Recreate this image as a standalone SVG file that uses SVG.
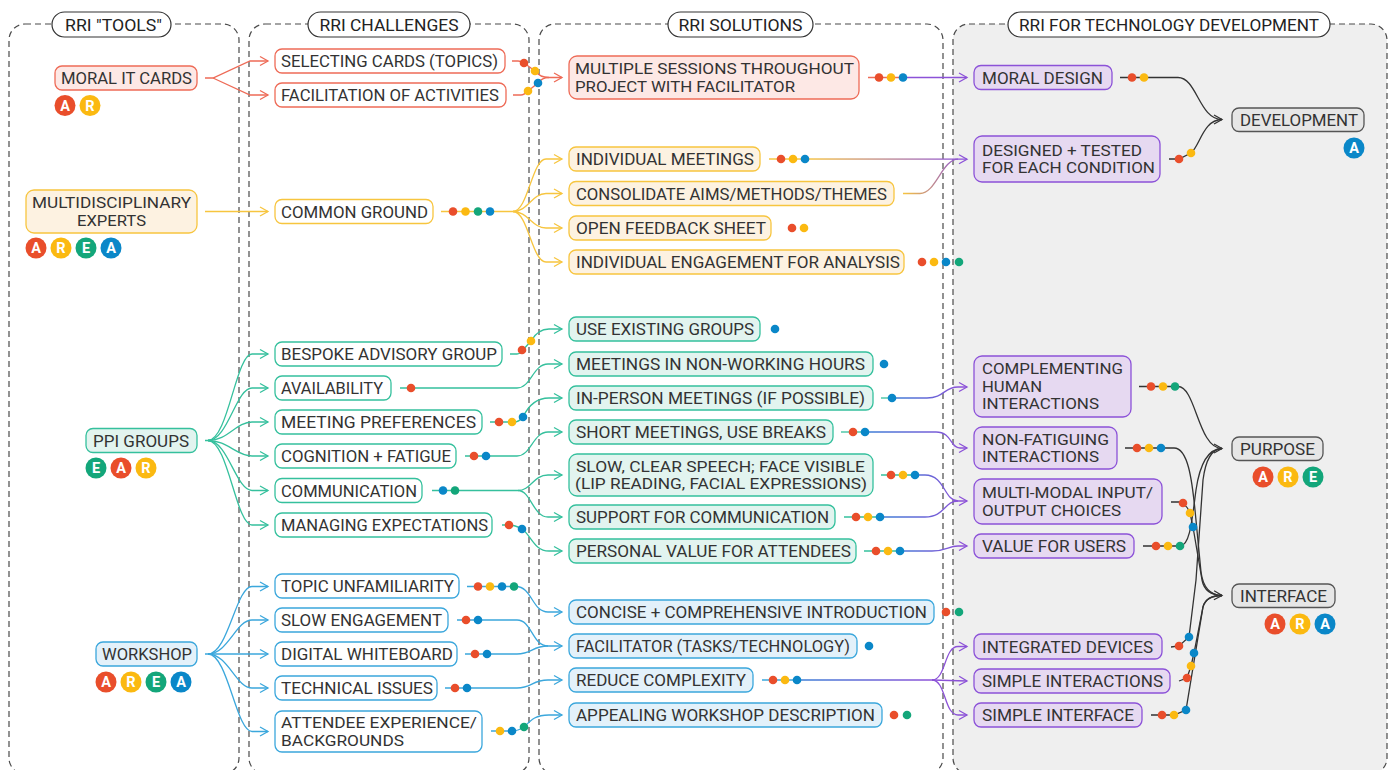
<svg xmlns="http://www.w3.org/2000/svg" width="1392" height="770" viewBox="0 0 1392 770">
<style>
.pn{fill:none;stroke:#4a4a4a;stroke-width:1.2;stroke-dasharray:6 4}
.pill{fill:#fff;stroke:#333;stroke-width:1.2}
.bx{stroke-width:1.3}
.r{fill:#fde8e5;stroke:#ee6b57}.rw{fill:#fff;stroke:#ee6b57}
.y{fill:#fdf2e1;stroke:#f7c53f}.yw{fill:#fff;stroke:#f7c53f}
.g{fill:#e2f4ef;stroke:#35c09d}.gw{fill:#fff;stroke:#35c09d}
.b{fill:#e3f1fa;stroke:#3ba7dc}.bw{fill:#fff;stroke:#3ba7dc}
.p{fill:#e6d9f1;stroke:#8c52d8}
.k{fill:#e6e6e6;stroke:#555}
.t{font-family:Roboto,"Liberation Sans",sans-serif;font-size:17px;fill:#333}
.t2{font-family:Roboto,"Liberation Sans",sans-serif;font-size:15px;fill:#333}
.tt{font-family:Roboto,"Liberation Sans",sans-serif;font-size:17px;fill:#222}
.bl{font-family:Roboto,"Liberation Sans",sans-serif;font-size:14.5px;font-weight:bold;fill:#fff;text-anchor:middle}
.c{fill:none;stroke-width:1.3}
.cr{stroke:#ee6b57}.cy{stroke:#f7c53f}.cg{stroke:#35c09d}.cb{stroke:#3ba7dc}.cp{stroke:#8c52d8}.ck{stroke:#333}
.dr{fill:#e94e2b}.dy{fill:#fbb911}.dg{fill:#13a67a}.db{fill:#0a87c8}
</style>
<defs>
<marker id="ar-r" markerUnits="userSpaceOnUse" markerWidth="12" markerHeight="12" refX="10" refY="6" orient="auto"><path d="M2,1.5 L10,6 L2,10.5" fill="none" stroke="#ee6b57" stroke-width="1.3"/></marker>
<marker id="ar-y" markerUnits="userSpaceOnUse" markerWidth="12" markerHeight="12" refX="10" refY="6" orient="auto"><path d="M2,1.5 L10,6 L2,10.5" fill="none" stroke="#f7c53f" stroke-width="1.3"/></marker>
<marker id="ar-g" markerUnits="userSpaceOnUse" markerWidth="12" markerHeight="12" refX="10" refY="6" orient="auto"><path d="M2,1.5 L10,6 L2,10.5" fill="none" stroke="#35c09d" stroke-width="1.3"/></marker>
<marker id="ar-b" markerUnits="userSpaceOnUse" markerWidth="12" markerHeight="12" refX="10" refY="6" orient="auto"><path d="M2,1.5 L10,6 L2,10.5" fill="none" stroke="#3ba7dc" stroke-width="1.3"/></marker>
<marker id="ar-p" markerUnits="userSpaceOnUse" markerWidth="12" markerHeight="12" refX="10" refY="6" orient="auto"><path d="M2,1.5 L10,6 L2,10.5" fill="none" stroke="#8c52d8" stroke-width="1.3"/></marker>
<marker id="ar-k" markerUnits="userSpaceOnUse" markerWidth="12" markerHeight="12" refX="10" refY="6" orient="auto"><path d="M2,1.5 L10,6 L2,10.5" fill="none" stroke="#333" stroke-width="1.3"/></marker>
<linearGradient id="gY1" gradientUnits="userSpaceOnUse" x1="805" y1="0" x2="960" y2="0"><stop offset="0" stop-color="#f7c53f"/><stop offset="1" stop-color="#8c52d8"/></linearGradient>
<linearGradient id="gY2" gradientUnits="userSpaceOnUse" x1="903" y1="0" x2="960" y2="0"><stop offset="0" stop-color="#f7c53f"/><stop offset="1" stop-color="#8c52d8"/></linearGradient>
<linearGradient id="gB1" gradientUnits="userSpaceOnUse" x1="892" y1="0" x2="960" y2="0"><stop offset="0" stop-color="#3b7fd6"/><stop offset="1" stop-color="#8c52d8"/></linearGradient>
<linearGradient id="gB2" gradientUnits="userSpaceOnUse" x1="865" y1="0" x2="960" y2="0"><stop offset="0" stop-color="#3b7fd6"/><stop offset="1" stop-color="#8c52d8"/></linearGradient>
<linearGradient id="gB3" gradientUnits="userSpaceOnUse" x1="880" y1="0" x2="960" y2="0"><stop offset="0" stop-color="#3b7fd6"/><stop offset="1" stop-color="#8c52d8"/></linearGradient>
<linearGradient id="gB4" gradientUnits="userSpaceOnUse" x1="797" y1="0" x2="930" y2="0"><stop offset="0" stop-color="#3b7fd6"/><stop offset="1" stop-color="#8c52d8"/></linearGradient>
</defs>

<g id="panels">
<rect class="pn" x="9" y="24" width="230" height="750" rx="16"/>
<rect class="pn" x="249" y="24" width="280" height="750" rx="16"/>
<rect class="pn" x="539" y="24" width="404" height="750" rx="16"/>
<rect class="pn" x="953" y="24" width="434" height="750" rx="16" style="fill:#efefef"/>
</g>

<g id="titles">
<g id="title-tools"><rect class="pill" x="52" y="12" width="119" height="25" rx="12.5"/><text class="tt" x="113.5" y="30.5" text-anchor="middle" textLength="97" lengthAdjust="spacingAndGlyphs">RRI "TOOLS"</text></g>
<g id="title-challenges"><rect class="pill" x="308" y="12" width="162" height="25" rx="12.5"/><text class="tt" x="389" y="30.5" text-anchor="middle" textLength="139" lengthAdjust="spacingAndGlyphs">RRI CHALLENGES</text></g>
<g id="title-solutions"><rect class="pill" x="668" y="12" width="145" height="25" rx="12.5"/><text class="tt" x="740.5" y="30.5" text-anchor="middle" textLength="124" lengthAdjust="spacingAndGlyphs">RRI SOLUTIONS</text></g>
<g id="title-tech"><rect class="pill" x="1008" y="12" width="322" height="25" rx="12.5"/><text class="tt" x="1169" y="30.5" text-anchor="middle" textLength="300" lengthAdjust="spacingAndGlyphs">RRI FOR TECHNOLOGY DEVELOPMENT</text></g>
</g>

<g id="connectors">
<path class="c cr" d="M205,78 L213,78 L250,61 L268,61" marker-end="url(#ar-r)"/>
<path class="c cr" d="M213,78 L250,95 L268,95" marker-end="url(#ar-r)"/>
<path class="c cr" d="M512,61 L518,61 Q521,61 524,63 L535,71 Q540,77.5 549,77.5 L562,77.5" marker-end="url(#ar-r)"/>
<path class="c cr" d="M513,95 L521,95 Q524,95 528,91 L538,83 Q542,77.5 549,77.5"/>
<path class="c cr" d="M868,77.5 L903,77.5"/>
<path class="c cp" d="M903,77.5 L967,77.5" marker-end="url(#ar-p)"/>
<path class="c cy" d="M205,211.5 L268,211.5" marker-end="url(#ar-y)"/>
<path class="c cy" d="M441,211.5 L513,211.5"/>
<path class="c cy" d="M513,211.5 C528,211.5 532,159 546,159 L562,159" marker-end="url(#ar-y)"/>
<path class="c cy" d="M513,211.5 C528,211.5 532,193.5 546,193.5 L562,193.5" marker-end="url(#ar-y)"/>
<path class="c cy" d="M513,211.5 C528,211.5 532,228 546,228 L562,228" marker-end="url(#ar-y)"/>
<path class="c cy" d="M513,211.5 C528,211.5 532,262 546,262 L562,262" marker-end="url(#ar-y)"/>
<path class="c" stroke="url(#gY1)" d="M769,159 L967,159.2" marker-end="url(#ar-p)"/>
<path class="c" stroke="url(#gY2)" d="M903,193.5 L920,193.5 C936,193.5 942,159.2 958,159.2"/>
<path class="c cg" d="M205,440.5 L208,440.5 C228,440.5 236,354 252,354 L268,354" marker-end="url(#ar-g)"/>
<path class="c cg" d="M208,440.5 C228,440.5 236,388 252,388 L268,388" marker-end="url(#ar-g)"/>
<path class="c cg" d="M208,440.5 C228,440.5 236,422 252,422 L268,422" marker-end="url(#ar-g)"/>
<path class="c cg" d="M208,440.5 C228,440.5 236,456 252,456 L268,456" marker-end="url(#ar-g)"/>
<path class="c cg" d="M208,440.5 C228,440.5 236,490.5 252,490.5 L268,490.5" marker-end="url(#ar-g)"/>
<path class="c cg" d="M208,440.5 C228,440.5 236,525 252,525 L268,525" marker-end="url(#ar-g)"/>
<path class="c cg" d="M510,354 L517,354 Q520,354 522,351 L531,341 Q538,329 549,329 L562,329" marker-end="url(#ar-g)"/>
<path class="c cg" d="M400,388 L517,388 C531,388 533,364 548,364 L562,364" marker-end="url(#ar-g)"/>
<path class="c cg" d="M490,422 L514,422 Q519,422 523,417 Q532,398 549,398 L562,398" marker-end="url(#ar-g)"/>
<path class="c cg" d="M465,456 L517,456 C531,456 533,432 548,432 L562,432" marker-end="url(#ar-g)"/>
<path class="c cg" d="M432,490.5 L518,490.5 C531,490.5 533,475 548,475 L562,475" marker-end="url(#ar-g)"/>
<path class="c cg" d="M518,490.5 C531,490.5 533,517 548,517 L562,517" marker-end="url(#ar-g)"/>
<path class="c cg" d="M502,525 L509,525 Q515,525 522,529 C531,535 534,551 549,551 L562,551" marker-end="url(#ar-g)"/>
<path class="c cg" d="M881,398 L892,398"/>
<path class="c" stroke="url(#gB1)" d="M892,398 L927,398 C944,398 944,387 958,387 L967,387" marker-end="url(#ar-p)"/>
<path class="c cg" d="M841,432 L865,432"/>
<path class="c" stroke="url(#gB2)" d="M865,432 L936,432 C952,432 950,448 960,448 L967,448" marker-end="url(#ar-p)"/>
<path class="c cg" d="M881,475 L915,475"/>
<path class="c" stroke="url(#gB1)" d="M915,475 L925,475 C945,475 944,501 958,501 L967,501" marker-end="url(#ar-p)"/>
<path class="c cg" d="M844,517 L880,517"/>
<path class="c" stroke="url(#gB3)" d="M880,517 L925,517 C945,517 944,501 958,501"/>
<path class="c cg" d="M864,551 L900,551"/>
<path class="c" stroke="url(#gB1)" d="M900,551 L932,551 C947,551 948,546 958,546 L967,546" marker-end="url(#ar-p)"/>
<path class="c cb" d="M205,654 L208,654 C228,654 236,586.5 252,586.5 L268,586.5" marker-end="url(#ar-b)"/>
<path class="c cb" d="M208,654 C228,654 236,620 252,620 L268,620" marker-end="url(#ar-b)"/>
<path class="c cb" d="M208,654 L268,654" marker-end="url(#ar-b)"/>
<path class="c cb" d="M208,654 C228,654 236,688 252,688 L268,688" marker-end="url(#ar-b)"/>
<path class="c cb" d="M208,654 C228,654 236,731.5 252,731.5 L268,731.5" marker-end="url(#ar-b)"/>
<path class="c cb" d="M467,586.5 L516,586.5 C532,586.5 532,612 548,612 L562,612" marker-end="url(#ar-b)"/>
<path class="c cb" d="M457,620 L517,620 C532,620 532,646 548,646 L562,646" marker-end="url(#ar-b)"/>
<path class="c cb" d="M465,654 L517,654 C532,654 532,646 548,646"/>
<path class="c cb" d="M445,688 L517,688 C532,688 532,680 548,680 L562,680" marker-end="url(#ar-b)"/>
<path class="c cb" d="M491,731 L512,731 Q518,731 524,727 C532,719 536,715 549,715 L562,715" marker-end="url(#ar-b)"/>
<path class="c cb" d="M762,680 L797,680"/>
<path class="c" stroke="url(#gB4)" d="M797,680 L932,680"/>
<path class="c cp" d="M932,680 C946,680 944,646.5 958,646.5 L967,646.5" marker-end="url(#ar-p)"/>
<path class="c cp" d="M932,680 L967,681" marker-end="url(#ar-p)"/>
<path class="c cp" d="M932,680 C946,680 944,715 958,715 L967,715" marker-end="url(#ar-p)"/>
<path class="c ck" d="M1120,77.5 L1178,77.5 C1197,77.5 1199,119.5 1222,119.5" marker-end="url(#ar-k)"/>
<path class="c ck" d="M1169,159 L1179,159 L1191,153 C1200,146 1203,119.5 1222,119.5"/>
<path class="c ck" d="M1139,386.5 L1178,386.5 C1196,386.5 1198,448.5 1222,448.5" marker-end="url(#ar-k)"/>
<path class="c ck" d="M1143,546 L1180,546 C1190,546 1192,520 1196,490 Q1202,449 1222,448.5"/>
<path class="c ck" d="M1171,647 L1179,646 L1189,637 L1196,580 L1203,480 Q1207,449 1222,448.5"/>
<path class="c ck" d="M1125,448 L1174,448 C1188,448 1192,480 1195,510 L1201,572 Q1204,595 1222,595.5" marker-end="url(#ar-k)"/>
<path class="c ck" d="M1171,502 L1180,502 Q1187,505 1190,513 L1193,527 L1202,580 Q1205,595 1222,595.5"/>
<path class="c ck" d="M1179,681 L1187,678 L1191,666 L1194,653 L1203,607 Q1206,595.5 1222,595.5"/>
<path class="c ck" d="M1151,715 L1174,715 L1186,710 L1203,607 Q1206,595.5 1222,595.5"/>
</g>

<g id="dots">
<circle class="dr" cx="524" cy="63" r="4.3"/><circle class="dy" cx="535" cy="71" r="4.3"/>
<circle class="dy" cx="528" cy="91" r="4.3"/><circle class="db" cx="538" cy="83" r="4.3"/>
<circle class="dr" cx="879" cy="77.5" r="4.3"/><circle class="dy" cx="891" cy="77.5" r="4.3"/><circle class="db" cx="903" cy="77.5" r="4.3"/>
<circle class="dr" cx="453" cy="211.5" r="4.3"/><circle class="dy" cx="465.5" cy="211.5" r="4.3"/><circle class="dg" cx="478" cy="211.5" r="4.3"/><circle class="db" cx="490" cy="211.5" r="4.3"/>
<circle class="dr" cx="781" cy="159" r="4.3"/><circle class="dy" cx="793" cy="159" r="4.3"/><circle class="db" cx="805" cy="159" r="4.3"/>
<circle class="dr" cx="792" cy="228" r="4.3"/><circle class="dy" cx="804" cy="228" r="4.3"/>
<circle class="dr" cx="922" cy="262" r="4.3"/><circle class="dy" cx="934" cy="262" r="4.3"/><circle class="db" cx="946" cy="262" r="4.3"/><circle class="dg" cx="959" cy="262" r="4.3"/>
<circle class="dr" cx="1132" cy="77.5" r="4.3"/><circle class="dy" cx="1144" cy="77.5" r="4.3"/>
<circle class="dr" cx="1179" cy="159" r="4.3"/><circle class="dy" cx="1191" cy="153" r="4.3"/>
<circle class="dr" cx="522" cy="350" r="4.3"/><circle class="dy" cx="531" cy="341" r="4.3"/>
<circle class="dr" cx="411" cy="388" r="4.3"/>
<circle class="dr" cx="499" cy="422" r="4.3"/><circle class="dy" cx="512" cy="422" r="4.3"/><circle class="db" cx="523" cy="417" r="4.3"/>
<circle class="dr" cx="474" cy="456" r="4.3"/><circle class="db" cx="486" cy="456" r="4.3"/>
<circle class="db" cx="443" cy="490.5" r="4.3"/><circle class="dg" cx="455" cy="490.5" r="4.3"/>
<circle class="dr" cx="509" cy="525" r="4.3"/><circle class="db" cx="522" cy="529" r="4.3"/>
<circle class="db" cx="775" cy="329" r="4.3"/>
<circle class="db" cx="884" cy="364" r="4.3"/>
<circle class="db" cx="892" cy="398" r="4.3"/>
<circle class="dr" cx="853" cy="432" r="4.3"/><circle class="db" cx="865" cy="432" r="4.3"/>
<circle class="dr" cx="891" cy="475" r="4.3"/><circle class="dy" cx="903" cy="475" r="4.3"/><circle class="db" cx="915" cy="475" r="4.3"/>
<circle class="dr" cx="856" cy="517" r="4.3"/><circle class="dy" cx="868" cy="517" r="4.3"/><circle class="db" cx="880" cy="517" r="4.3"/>
<circle class="dr" cx="876" cy="551" r="4.3"/><circle class="dy" cx="888" cy="551" r="4.3"/><circle class="db" cx="900" cy="551" r="4.3"/>
<circle class="dr" cx="1151" cy="386.5" r="4.3"/><circle class="dy" cx="1163" cy="386.5" r="4.3"/><circle class="dg" cx="1175" cy="386.5" r="4.3"/>
<circle class="dr" cx="1137" cy="448" r="4.3"/><circle class="dy" cx="1149" cy="448" r="4.3"/><circle class="db" cx="1161" cy="448" r="4.3"/>
<circle class="dr" cx="1183" cy="503" r="4.3"/><circle class="dy" cx="1190" cy="513" r="4.3"/><circle class="db" cx="1193" cy="527" r="4.3"/>
<circle class="dr" cx="1156" cy="546" r="4.3"/><circle class="dy" cx="1168" cy="546" r="4.3"/><circle class="dg" cx="1180" cy="546" r="4.3"/>
<circle class="dr" cx="478" cy="586.5" r="4.3"/><circle class="dy" cx="490" cy="586.5" r="4.3"/><circle class="db" cx="502" cy="586.5" r="4.3"/><circle class="dg" cx="514" cy="586.5" r="4.3"/>
<circle class="dr" cx="466" cy="620" r="4.3"/><circle class="db" cx="478" cy="620" r="4.3"/>
<circle class="dr" cx="475" cy="654" r="4.3"/><circle class="db" cx="487" cy="654" r="4.3"/>
<circle class="dr" cx="455" cy="688" r="4.3"/><circle class="db" cx="467" cy="688" r="4.3"/>
<circle class="dy" cx="500" cy="731" r="4.3"/><circle class="db" cx="512" cy="731" r="4.3"/><circle class="dg" cx="524" cy="727" r="4.3"/>
<circle class="dr" cx="946" cy="612" r="4.3"/><circle class="dg" cx="959" cy="612" r="4.3"/>
<circle class="db" cx="869" cy="646" r="4.3"/>
<circle class="dr" cx="773" cy="680" r="4.3"/><circle class="dy" cx="785" cy="680" r="4.3"/><circle class="db" cx="797" cy="680" r="4.3"/>
<circle class="dr" cx="894" cy="715" r="4.3"/><circle class="dg" cx="907" cy="715" r="4.3"/>
<circle class="dr" cx="1179" cy="646" r="4.3"/><circle class="db" cx="1189" cy="637" r="4.3"/>
<circle class="dr" cx="1187" cy="678" r="4.3"/><circle class="dy" cx="1191" cy="666" r="4.3"/><circle class="db" cx="1194" cy="653" r="4.3"/>
<circle class="dr" cx="1162" cy="715" r="4.3"/><circle class="dy" cx="1174" cy="715" r="4.3"/><circle class="db" cx="1186" cy="710" r="4.3"/>
</g>

<g id="n-moral-it-cards"><rect class="bx r" x="55" y="66" width="142" height="24" rx="7"/><text class="t" x="61" y="84" textLength="131" lengthAdjust="spacingAndGlyphs">MORAL IT CARDS</text>
<circle class="dr" cx="65" cy="105.5" r="10.5"/><text class="bl" x="65" y="110.7">A</text>
<circle class="dy" cx="90" cy="105.5" r="10.5"/><text class="bl" x="90" y="110.7">R</text></g>
<g id="n-multidisciplinary"><rect class="bx y" x="26" y="190" width="171" height="43" rx="8"/><text class="t2" x="111.5" y="208" text-anchor="middle" textLength="159" lengthAdjust="spacingAndGlyphs">MULTIDISCIPLINARY</text><text class="t2" x="111.5" y="225.6" text-anchor="middle" textLength="69" lengthAdjust="spacingAndGlyphs">EXPERTS</text>
<circle class="dr" cx="36" cy="248" r="10.5"/><text class="bl" x="36" y="253.2">A</text>
<circle class="dy" cx="61" cy="248" r="10.5"/><text class="bl" x="61" y="253.2">R</text>
<circle class="dg" cx="86" cy="248" r="10.5"/><text class="bl" x="86" y="253.2">E</text>
<circle class="db" cx="111" cy="248" r="10.5"/><text class="bl" x="111" y="253.2">A</text></g>
<g id="n-ppi-groups"><rect class="bx g" x="86" y="428.5" width="111" height="24" rx="7"/><text class="t" x="93" y="446.5" textLength="96" lengthAdjust="spacingAndGlyphs">PPI GROUPS</text>
<circle class="dg" cx="96" cy="468" r="10.5"/><text class="bl" x="96" y="473.2">E</text>
<circle class="dr" cx="121" cy="468" r="10.5"/><text class="bl" x="121" y="473.2">A</text>
<circle class="dy" cx="146" cy="468" r="10.5"/><text class="bl" x="146" y="473.2">R</text></g>
<g id="n-workshop"><rect class="bx b" x="96" y="642" width="101" height="24" rx="7"/><text class="t" x="102" y="660" textLength="90" lengthAdjust="spacingAndGlyphs">WORKSHOP</text>
<circle class="dr" cx="106" cy="682" r="10.5"/><text class="bl" x="106" y="687.2">A</text>
<circle class="dy" cx="131" cy="682" r="10.5"/><text class="bl" x="131" y="687.2">R</text>
<circle class="dg" cx="156" cy="682" r="10.5"/><text class="bl" x="156" y="687.2">E</text>
<circle class="db" cx="181" cy="682" r="10.5"/><text class="bl" x="181" y="687.2">A</text></g>

<g id="n-selecting"><rect class="bx rw" x="275" y="49" width="230" height="24" rx="7"/><text class="t" x="281" y="67" textLength="217" lengthAdjust="spacingAndGlyphs">SELECTING CARDS (TOPICS)</text></g>
<g id="n-facilitation"><rect class="bx rw" x="275" y="83" width="231" height="24" rx="7"/><text class="t" x="281" y="101" textLength="218" lengthAdjust="spacingAndGlyphs">FACILITATION OF ACTIVITIES</text></g>
<g id="n-common-ground"><rect class="bx yw" x="275" y="199.5" width="158" height="24" rx="7"/><text class="t" x="281" y="217.5" textLength="147" lengthAdjust="spacingAndGlyphs">COMMON GROUND</text></g>
<g id="n-bespoke"><rect class="bx gw" x="275" y="342" width="227" height="24" rx="7"/><text class="t" x="281" y="360" textLength="216" lengthAdjust="spacingAndGlyphs">BESPOKE ADVISORY GROUP</text></g>
<g id="n-availability"><rect class="bx gw" x="275" y="376" width="116" height="24" rx="7"/><text class="t" x="281" y="394" textLength="102" lengthAdjust="spacingAndGlyphs">AVAILABILITY</text></g>
<g id="n-meeting-prefs"><rect class="bx gw" x="275" y="410" width="207" height="24" rx="7"/><text class="t" x="281" y="428" textLength="195" lengthAdjust="spacingAndGlyphs">MEETING PREFERENCES</text></g>
<g id="n-cognition"><rect class="bx gw" x="275" y="444" width="181" height="24" rx="7"/><text class="t" x="281" y="462" textLength="170" lengthAdjust="spacingAndGlyphs">COGNITION + FATIGUE</text></g>
<g id="n-communication"><rect class="bx gw" x="275" y="478.5" width="147" height="24" rx="7"/><text class="t" x="281" y="496.5" textLength="136" lengthAdjust="spacingAndGlyphs">COMMUNICATION</text></g>
<g id="n-managing"><rect class="bx gw" x="275" y="513" width="217" height="24" rx="7"/><text class="t" x="281" y="531" textLength="207" lengthAdjust="spacingAndGlyphs">MANAGING EXPECTATIONS</text></g>
<g id="n-topic"><rect class="bx bw" x="275" y="574" width="184" height="24" rx="7"/><text class="t" x="281" y="592" textLength="173" lengthAdjust="spacingAndGlyphs">TOPIC UNFAMILIARITY</text></g>
<g id="n-slow-engagement"><rect class="bx bw" x="275" y="608" width="173" height="24" rx="7"/><text class="t" x="281" y="626" textLength="161" lengthAdjust="spacingAndGlyphs">SLOW ENGAGEMENT</text></g>
<g id="n-digital-whiteboard"><rect class="bx bw" x="275" y="642" width="182" height="24" rx="7"/><text class="t" x="281" y="660" textLength="172" lengthAdjust="spacingAndGlyphs">DIGITAL WHITEBOARD</text></g>
<g id="n-technical"><rect class="bx bw" x="275" y="676" width="162" height="24" rx="7"/><text class="t" x="281" y="694" textLength="152" lengthAdjust="spacingAndGlyphs">TECHNICAL ISSUES</text></g>
<g id="n-attendee"><rect class="bx bw" x="275" y="711" width="207" height="41" rx="7"/><text class="t2" x="281" y="728" textLength="196" lengthAdjust="spacingAndGlyphs">ATTENDEE EXPERIENCE/</text><text class="t2" x="281" y="745.6" textLength="123" lengthAdjust="spacingAndGlyphs">BACKGROUNDS</text></g>

<g id="n-multiple-sessions"><rect class="bx r" x="569" y="56" width="290" height="43" rx="8"/><text class="t2" x="575" y="74" textLength="279" lengthAdjust="spacingAndGlyphs">MULTIPLE SESSIONS THROUGHOUT</text><text class="t2" x="575" y="91.6" textLength="220" lengthAdjust="spacingAndGlyphs">PROJECT WITH FACILITATOR</text></g>
<g id="n-individual-meetings"><rect class="bx y" x="569" y="147" width="191" height="24" rx="7"/><text class="t" x="576" y="165" textLength="178" lengthAdjust="spacingAndGlyphs">INDIVIDUAL MEETINGS</text></g>
<g id="n-consolidate"><rect class="bx y" x="569" y="181.5" width="325" height="24" rx="7"/><text class="t" x="576" y="199.5" textLength="311" lengthAdjust="spacingAndGlyphs">CONSOLIDATE AIMS/METHODS/THEMES</text></g>
<g id="n-open-feedback"><rect class="bx y" x="569" y="216" width="202" height="24" rx="7"/><text class="t" x="576" y="234" textLength="190" lengthAdjust="spacingAndGlyphs">OPEN FEEDBACK SHEET</text></g>
<g id="n-individual-engagement"><rect class="bx y" x="569" y="250" width="335" height="24" rx="7"/><text class="t" x="576" y="268" textLength="324" lengthAdjust="spacingAndGlyphs">INDIVIDUAL ENGAGEMENT FOR ANALYSIS</text></g>
<g id="n-use-existing"><rect class="bx g" x="569" y="317" width="191" height="24" rx="7"/><text class="t" x="576" y="335" textLength="178" lengthAdjust="spacingAndGlyphs">USE EXISTING GROUPS</text></g>
<g id="n-non-working"><rect class="bx g" x="569" y="352" width="304" height="24" rx="7"/><text class="t" x="576" y="370" textLength="289" lengthAdjust="spacingAndGlyphs">MEETINGS IN NON-WORKING HOURS</text></g>
<g id="n-in-person"><rect class="bx g" x="569" y="386" width="304" height="24" rx="7"/><text class="t" x="576" y="404" textLength="289" lengthAdjust="spacingAndGlyphs">IN-PERSON MEETINGS (IF POSSIBLE)</text></g>
<g id="n-short-meetings"><rect class="bx g" x="569" y="420" width="264" height="24" rx="7"/><text class="t" x="576" y="438" textLength="250" lengthAdjust="spacingAndGlyphs">SHORT MEETINGS, USE BREAKS</text></g>
<g id="n-slow-clear"><rect class="bx g" x="569" y="454" width="304" height="42" rx="8"/><text class="t2" x="576" y="471.5" textLength="289" lengthAdjust="spacingAndGlyphs">SLOW, CLEAR SPEECH; FACE VISIBLE</text><text class="t2" x="575" y="489.1" textLength="292" lengthAdjust="spacingAndGlyphs">(LIP READING, FACIAL EXPRESSIONS)</text></g>
<g id="n-support"><rect class="bx g" x="569" y="505" width="266" height="24" rx="7"/><text class="t" x="576" y="523" textLength="253" lengthAdjust="spacingAndGlyphs">SUPPORT FOR COMMUNICATION</text></g>
<g id="n-personal-value"><rect class="bx g" x="569" y="539" width="287" height="24" rx="7"/><text class="t" x="576" y="557" textLength="275" lengthAdjust="spacingAndGlyphs">PERSONAL VALUE FOR ATTENDEES</text></g>
<g id="n-concise"><rect class="bx b" x="569" y="600" width="365" height="24" rx="7"/><text class="t" x="576" y="618" textLength="351" lengthAdjust="spacingAndGlyphs">CONCISE + COMPREHENSIVE INTRODUCTION</text></g>
<g id="n-facilitator"><rect class="bx b" x="569" y="634" width="288" height="24" rx="7"/><text class="t" x="576" y="652" textLength="274" lengthAdjust="spacingAndGlyphs">FACILITATOR (TASKS/TECHNOLOGY)</text></g>
<g id="n-reduce"><rect class="bx b" x="569" y="668" width="184" height="24" rx="7"/><text class="t" x="576" y="686" textLength="170" lengthAdjust="spacingAndGlyphs">REDUCE COMPLEXITY</text></g>
<g id="n-appealing"><rect class="bx b" x="569" y="703" width="313" height="24" rx="7"/><text class="t" x="576" y="721" textLength="299" lengthAdjust="spacingAndGlyphs">APPEALING WORKSHOP DESCRIPTION</text></g>

<g id="n-moral-design"><rect class="bx p" x="974" y="65.5" width="138" height="24" rx="7"/><text class="t" x="982" y="83.5" textLength="121" lengthAdjust="spacingAndGlyphs">MORAL DESIGN</text></g>
<g id="n-designed"><rect class="bx p" x="974" y="136" width="186" height="46" rx="8"/><text class="t2" x="982" y="155.5" textLength="160" lengthAdjust="spacingAndGlyphs">DESIGNED + TESTED</text><text class="t2" x="982" y="173.1" textLength="173" lengthAdjust="spacingAndGlyphs">FOR EACH CONDITION</text></g>
<g id="n-development"><rect class="bx k" x="1232" y="108" width="132" height="23.5" rx="7"/><text class="t" x="1240" y="125.8" textLength="118" lengthAdjust="spacingAndGlyphs">DEVELOPMENT</text>
<circle class="db" cx="1354" cy="148" r="10.5"/><text class="bl" x="1354" y="153.2">A</text></g>
<g id="n-complementing"><rect class="bx p" x="974" y="356" width="157" height="61" rx="8"/><text class="t2" x="982" y="374.2" textLength="141" lengthAdjust="spacingAndGlyphs">COMPLEMENTING</text><text class="t2" x="982" y="391.8" textLength="60" lengthAdjust="spacingAndGlyphs">HUMAN</text><text class="t2" x="982" y="409.4" textLength="117" lengthAdjust="spacingAndGlyphs">INTERACTIONS</text></g>
<g id="n-non-fatiguing"><rect class="bx p" x="974" y="427" width="143" height="42" rx="8"/><text class="t2" x="982" y="444.5" textLength="127" lengthAdjust="spacingAndGlyphs">NON-FATIGUING</text><text class="t2" x="982" y="462.1" textLength="117" lengthAdjust="spacingAndGlyphs">INTERACTIONS</text></g>
<g id="n-multi-modal"><rect class="bx p" x="974" y="479" width="188" height="45" rx="8"/><text class="t2" x="982" y="498" textLength="171" lengthAdjust="spacingAndGlyphs">MULTI-MODAL INPUT/</text><text class="t2" x="982" y="515.6" textLength="139" lengthAdjust="spacingAndGlyphs">OUTPUT CHOICES</text></g>
<g id="n-value-users"><rect class="bx p" x="974" y="534" width="160" height="24" rx="7"/><text class="t" x="982" y="552" textLength="144" lengthAdjust="spacingAndGlyphs">VALUE FOR USERS</text></g>
<g id="n-purpose"><rect class="bx k" x="1232" y="437" width="91" height="23.5" rx="7"/><text class="t" x="1240" y="454.7" textLength="75" lengthAdjust="spacingAndGlyphs">PURPOSE</text>
<circle class="dr" cx="1263" cy="477" r="10.5"/><text class="bl" x="1263" y="482.2">A</text>
<circle class="dy" cx="1288" cy="477" r="10.5"/><text class="bl" x="1288" y="482.2">R</text>
<circle class="dg" cx="1313" cy="477" r="10.5"/><text class="bl" x="1313" y="482.2">E</text></g>
<g id="n-interface"><rect class="bx k" x="1232" y="584" width="103" height="23.5" rx="7"/><text class="t" x="1240" y="601.7" textLength="87" lengthAdjust="spacingAndGlyphs">INTERFACE</text>
<circle class="dr" cx="1275" cy="624" r="10.5"/><text class="bl" x="1275" y="629.2">A</text>
<circle class="dy" cx="1300" cy="624" r="10.5"/><text class="bl" x="1300" y="629.2">R</text>
<circle class="db" cx="1325" cy="624" r="10.5"/><text class="bl" x="1325" y="629.2">A</text></g>
<g id="n-integrated"><rect class="bx p" x="974" y="634" width="188" height="25" rx="7"/><text class="t" x="982" y="652.5" textLength="171" lengthAdjust="spacingAndGlyphs">INTEGRATED DEVICES</text></g>
<g id="n-simple-interactions"><rect class="bx p" x="974" y="669" width="196" height="24" rx="7"/><text class="t" x="982" y="687" textLength="181" lengthAdjust="spacingAndGlyphs">SIMPLE INTERACTIONS</text></g>
<g id="n-simple-interface"><rect class="bx p" x="974" y="703" width="168" height="24" rx="7"/><text class="t" x="982" y="721" textLength="152" lengthAdjust="spacingAndGlyphs">SIMPLE INTERFACE</text></g>
</svg>
